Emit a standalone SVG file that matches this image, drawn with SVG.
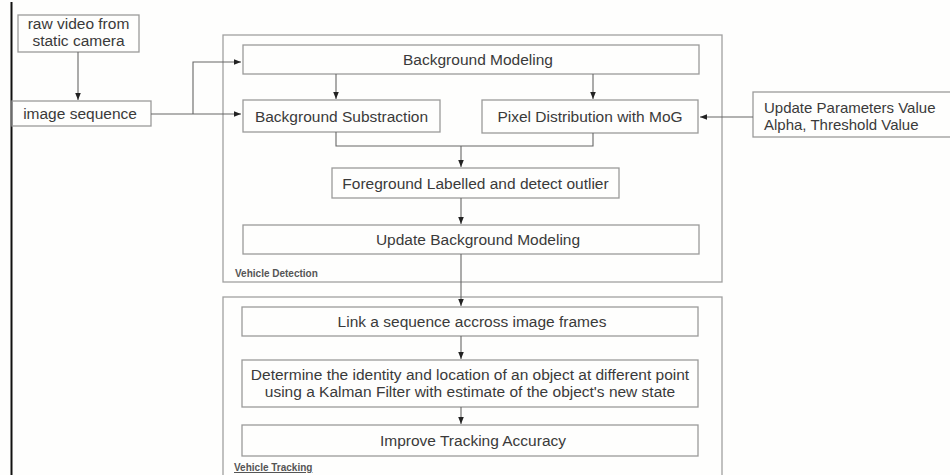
<svg xmlns="http://www.w3.org/2000/svg" width="950" height="475" viewBox="0 0 950 475">
<style>
.box{fill:none;stroke:#9a9a9a;stroke-width:1.3}
.frame{fill:none;stroke:#a0a0a0;stroke-width:1.3}
.t{font-family:"Liberation Sans",Arial,sans-serif;font-size:15.5px;fill:#3a3a3a}
.tc{text-anchor:middle}
.lbl{font-family:"Liberation Sans",Arial,sans-serif;font-size:10px;font-weight:bold;fill:#555}
.ln{fill:none;stroke:#666;stroke-width:1.1}
</style>
<defs>
<marker id="ah" viewBox="0 0 10 10" refX="10" refY="5" markerWidth="7" markerHeight="7" markerUnits="userSpaceOnUse" orient="auto">
<path d="M0,1 L10,5 L0,9 Z" fill="#222"/>
</marker>
</defs>
<rect width="950" height="475" fill="#fefefd"/>
<line x1="11.5" y1="2" x2="11.5" y2="475" stroke="#111" stroke-width="2"/>

<g id="frame-detection">
<rect class="frame" x="223" y="35" width="499" height="247"/>
<text class="lbl" x="235" y="277">Vehicle Detection</text>
</g>
<g id="frame-tracking">
<rect class="frame" x="223" y="297" width="499" height="190"/>
<text class="lbl" x="234" y="471" text-decoration="underline">Vehicle Tracking</text>
</g>

<g id="raw-video">
<rect class="box" x="18" y="15" width="121" height="37"/>
<text class="t tc" x="78.5" y="29">raw video from</text>
<text class="t tc" x="78.5" y="46">static camera</text>
</g>
<g id="image-sequence">
<rect class="box" x="12" y="101" width="139" height="25"/>
<text class="t tc" x="80" y="119">image sequence</text>
</g>
<g id="background-modeling">
<rect class="box" x="243" y="45" width="456" height="29"/>
<text class="t tc" x="478" y="65">Background Modeling</text>
</g>
<g id="background-substraction">
<rect class="box" x="243" y="100" width="197" height="32"/>
<text class="t tc" x="341.5" y="122">Background Substraction</text>
</g>
<g id="pixel-distribution">
<rect class="box" x="482" y="100" width="216" height="33"/>
<text class="t tc" x="590" y="122">Pixel Distribution with MoG</text>
</g>
<g id="update-parameters">
<rect class="box" x="753" y="92" width="200" height="45"/>
<text class="t" x="764" y="113" style="font-size:15px">Update Parameters Value</text>
<text class="t" x="764" y="130" style="font-size:15px">Alpha, Threshold Value</text>
</g>
<g id="foreground-labelled">
<rect class="box" x="332" y="168" width="287" height="30"/>
<text class="t tc" x="475.5" y="189">Foreground Labelled and detect outlier</text>
</g>
<g id="update-background">
<rect class="box" x="243" y="225" width="456" height="29"/>
<text class="t tc" x="478" y="245">Update Background Modeling</text>
</g>
<g id="link-sequence">
<rect class="box" x="242" y="307" width="456" height="29"/>
<text class="t tc" x="472" y="327">Link a sequence accross image frames</text>
</g>
<g id="determine-identity">
<rect class="box" x="242" y="360" width="456" height="47"/>
<text class="t tc" x="470" y="380">Determine the identity and location of an object at different point</text>
<text class="t tc" x="470" y="397">using a Kalman Filter with estimate of the object's new state</text>
</g>
<g id="improve-tracking">
<rect class="box" x="242" y="425" width="456" height="31"/>
<text class="t tc" x="473" y="446">Improve Tracking Accuracy</text>
</g>

<g id="connectors">
<line class="ln" x1="78" y1="52" x2="78" y2="100" marker-end="url(#ah)"/>
<line class="ln" x1="151" y1="114" x2="241" y2="114" marker-end="url(#ah)"/>
<polyline class="ln" points="193,114 193,62 241,62" marker-end="url(#ah)"/>
<line class="ln" x1="336" y1="74" x2="336" y2="99" marker-end="url(#ah)"/>
<line class="ln" x1="593" y1="74" x2="593" y2="99" marker-end="url(#ah)"/>
<polyline class="ln" points="336,132 336,146 593,146 593,133"/>
<line class="ln" x1="461" y1="146" x2="461" y2="167" marker-end="url(#ah)"/>
<line class="ln" x1="461" y1="198" x2="461" y2="224" marker-end="url(#ah)"/>
<line class="ln" x1="461" y1="254" x2="461" y2="306" marker-end="url(#ah)"/>
<line class="ln" x1="461" y1="336" x2="461" y2="359" marker-end="url(#ah)"/>
<line class="ln" x1="461" y1="407" x2="461" y2="424" marker-end="url(#ah)"/>
<line class="ln" x1="753" y1="117" x2="700" y2="117" marker-end="url(#ah)"/>
</g>
</svg>
